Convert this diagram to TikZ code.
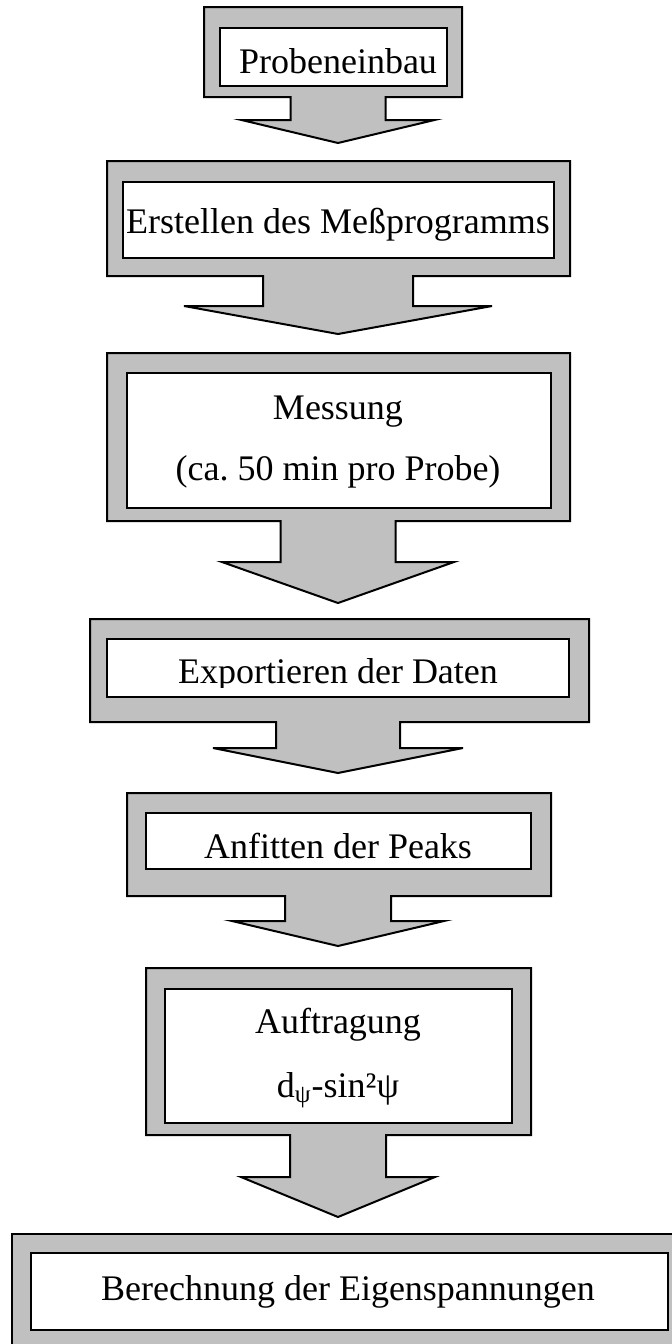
\documentclass[tikz,border=0pt]{standalone}
\usepackage{fontspec}
\setmainfont{Liberation Serif}
\frenchspacing
\definecolor{framegrey}{RGB}{192,192,192}
\tikzset{
  stepframe/.style={fill=framegrey, draw=black, line width=1pt, line join=miter},
  stepinner/.style={fill=white, draw=black, line width=1pt},
  steptext/.style={font=\fontsize{18}{18}\selectfont, anchor=base, inner sep=0pt}
}
% grey frame with a block arrow hanging from its lower edge
% #1 left, #2 right, #3 top, #4 bottom, #5 shaft half width,
% #6 head top, #7 head half width, #8 tip
\newcommand\blockarrow[8]{%
  \draw[stepframe] (#1,#3) -- (#2,#3) -- (#2,#4) -- ({338+#5},#4)
    -- ({338+#5},#6) -- ({338+#7},#6) -- (338,#8) -- ({338-#7},#6)
    -- ({338-#5},#6) -- ({338-#5},#4) -- (#1,#4) -- cycle;}
\begin{document}
\begin{tikzpicture}[x=0.5pt, y=-0.5pt]
\useasboundingbox (0,0) rectangle (672,1344);
\clip (0,0) rectangle (672,1344);

% 1
\blockarrow{204}{462}{7}{97}{47.5}{120}{96.5}{143}
\draw[stepinner] (220,28) rectangle (447,86);
\node[steptext] (t1) at (338,73) {Probeneinbau};

% 2
\blockarrow{107}{570}{161}{276}{75}{306}{154}{334}
\draw[stepinner] (123,182) rectangle (554,258);
\node[steptext] (t2) at (338,233) {Erstellen des Meßprogramms};

% 3
\blockarrow{107}{570}{353}{521}{57.5}{562}{116}{603}
\draw[stepinner] (127,373) rectangle (551,508);
\node[steptext] (t3a) at (338,419) {Messung};
\node[steptext] (t3b) at (338,480) {(ca. 50 min pro Probe)};

% 4
\blockarrow{90}{589}{619}{722}{62}{748}{125}{773}
\draw[stepinner] (107,639) rectangle (569,697);
\begin{scope}
  \clip (107,639) rectangle (569,687);
  \node[steptext] (t4) at (338,683) {Exportieren der Daten};
\end{scope}

% 5
\blockarrow{127}{551}{793}{896}{53}{921}{106}{946}
\draw[stepinner] (146,813) rectangle (531,869);
\node[steptext] (t5) at (338,858) {Anfitten der Peaks};

% 6
\blockarrow{146}{531}{968}{1135}{48}{1177}{97}{1217}
\draw[stepinner] (165,989) rectangle (512,1123);
\node[steptext] (t6a) at (338,1033) {Auftragung};
\node[steptext] (t6b) at (338,1097) {d\textsubscript{ψ}-sin²ψ};

% 7
\draw[stepframe] (12,1234) rectangle (684,1352);
\draw[stepinner] (31,1253) rectangle (668,1330);
\node[steptext] (t7) at (348,1300) {Berechnung der Eigenspannungen};
\end{tikzpicture}
\end{document}
